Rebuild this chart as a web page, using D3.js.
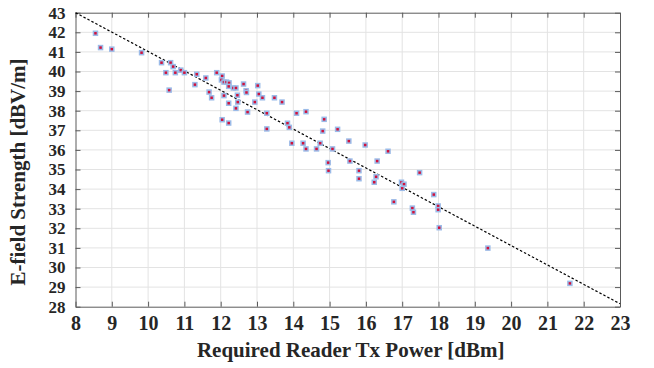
<!DOCTYPE html>
<html>
<head>
<meta charset="utf-8">
<script src="https://cdn.jsdelivr.net/npm/d3@7"></script>
<style>
  body { margin: 0; background: #fff; }
  text { font-family: 'Liberation Serif', 'Times New Roman', serif; font-weight: bold; fill: #262626; }
</style>
</head>
<body>
<script>
// required reader Tx power [dBm]
var txPower = [8.55, 8.69, 9.0, 9.82, 10.37, 10.62, 10.69, 10.49, 10.75, 10.9, 11.0, 10.58, 11.29, 11.34,
  11.59, 11.68, 11.75, 11.89, 12.04, 12.02, 12.09, 12.16, 12.23, 12.22, 12.35, 12.42, 12.09, 12.46,
  12.22, 12.47, 12.42, 12.04, 12.22, 12.63, 12.7, 12.71, 13.02, 13.05, 13.15, 12.94, 12.74, 13.48,
  13.69, 13.27, 13.27, 14.09, 14.35, 13.84, 13.89, 14.85, 14.81, 15.22, 13.96, 14.27, 14.35, 14.64,
  14.74, 15.08, 15.53, 15.98, 14.96, 14.97, 15.56, 15.81, 15.81, 16.31, 16.28, 16.61, 16.23, 16.98,
  17.05, 17.0, 17.48, 16.77, 17.28, 17.31, 17.87, 17.99, 17.99, 18.02, 19.36, 21.62];
// E-field strength [dBV/m]
var fieldStrength = [41.95, 41.22, 41.14, 40.96, 40.45, 40.45, 40.25, 39.94, 39.94, 40.07, 39.94, 39.05, 39.33, 39.86,
  39.67, 38.95, 38.66, 39.94, 39.77, 39.57, 39.46, 39.46, 39.42, 39.24, 39.16, 39.16, 38.77, 38.79,
  38.38, 38.44, 38.12, 37.54, 37.37, 39.36, 39.02, 38.93, 39.28, 38.85, 38.66, 38.44, 37.93, 38.66,
  38.44, 37.87, 37.07, 37.87, 37.95, 37.36, 37.15, 37.56, 36.96, 37.05, 36.34, 36.34, 36.05, 36.05,
  36.34, 36.05, 36.45, 36.25, 35.35, 34.94, 35.43, 34.94, 34.53, 35.43, 34.63, 35.93, 34.35, 34.35,
  34.25, 34.04, 34.84, 33.35, 33.03, 32.82, 33.72, 33.14, 32.95, 32.03, 30.99, 29.19];
// dashed reference line end points
var fitX = [8, 23];
var fitY = [43, 28.15];

var xTicks = d3.range(8, 24);
var yTicks = d3.range(28, 44);

var margin = {top: 12.7, right: 34, bottom: 61.3, left: 75.5},
  width  = 654 - margin.left - margin.right,
  height = 368 - margin.top - margin.bottom;

var x = d3.scaleLinear().domain([8, 23]).range([0, width]),
  y   = d3.scaleLinear().domain([28, 43]).range([height, 0]);

var svg = d3.select('body').append('svg')
  .attr('width', 654)
  .attr('height', 368);

var g = svg.append('g')
  .attr('transform', 'translate(' + margin.left + ',' + margin.top + ')');

// grid
g.append('g').selectAll('line').data(xTicks.slice(1, -1)).enter().append('line')
  .attr('x1', function(d) { return x(d); }).attr('x2', function(d) { return x(d); })
  .attr('y1', 0).attr('y2', height)
  .attr('stroke', '#e3e3e3').attr('stroke-width', 1);
g.append('g').selectAll('line').data(yTicks.slice(1, -1)).enter().append('line')
  .attr('y1', function(d) { return y(d); }).attr('y2', function(d) { return y(d); })
  .attr('x1', 0).attr('x2', width)
  .attr('stroke', '#e3e3e3').attr('stroke-width', 1);

// box + inward ticks
var axisColor = '#5a5a5a';
function styleAxis(size) {
  return function(sel) {
    sel.attr('font-family', null).attr('font-size', null);
    sel.select('.domain').attr('stroke', axisColor);
    sel.selectAll('.tick line').attr('stroke', axisColor);
    sel.selectAll('.tick text')
      .attr('font-family', "'Liberation Serif', 'Times New Roman', serif")
      .attr('font-weight', 'bold')
      .attr('font-size', size)
      .attr('fill', '#262626');
  };
}
g.append('g').attr('transform', 'translate(0,' + height + ')')
  .call(d3.axisBottom(x).tickValues(xTicks).tickSizeInner(-5).tickSizeOuter(0).tickPadding(9))
  .call(styleAxis(20));
g.append('g')
  .call(d3.axisTop(x).tickValues(xTicks).tickSizeInner(-5).tickSizeOuter(0).tickFormat(''))
  .call(styleAxis(20));
g.append('g')
  .call(d3.axisLeft(y).tickValues(yTicks).tickSizeInner(-5).tickSizeOuter(0).tickPadding(10))
  .call(styleAxis(17));
g.append('g').attr('transform', 'translate(' + width + ',0)')
  .call(d3.axisRight(y).tickValues(yTicks).tickSizeInner(-5).tickSizeOuter(0).tickFormat(''))
  .call(styleAxis(17));

// dashed line
g.append('line')
  .attr('x1', x(fitX[0])).attr('y1', y(fitY[0]))
  .attr('x2', x(fitX[1])).attr('y2', y(fitY[1]))
  .attr('stroke', '#000').attr('stroke-width', 1.2)
  .attr('stroke-dasharray', '2.5,2');

// points
var pts = txPower.map(function(d, i) { return {x: d, y: fieldStrength[i]}; });
g.append('g').selectAll('rect').data(pts).enter().append('rect')
  .attr('x', function(d) { return x(d.x) - 2; })
  .attr('y', function(d) { return y(d.y) - 2; })
  .attr('width', 4).attr('height', 4)
  .attr('fill', '#d0123c')
  .attr('stroke', '#9bbbe8').attr('stroke-width', 1.5);

// titles
svg.append('text')
  .attr('x', margin.left + width / 2 + 3).attr('y', 357)
  .attr('font-size', 21)
  .attr('text-anchor', 'middle')
  .text('Required Reader Tx Power [dBm]');
svg.append('text')
  .attr('transform', 'translate(25,' + 172 + ') rotate(-90)')
  .attr('font-size', 21)
  .attr('text-anchor', 'middle')
  .text('E-field Strength [dBV/m]');
</script>
</body>
</html>
